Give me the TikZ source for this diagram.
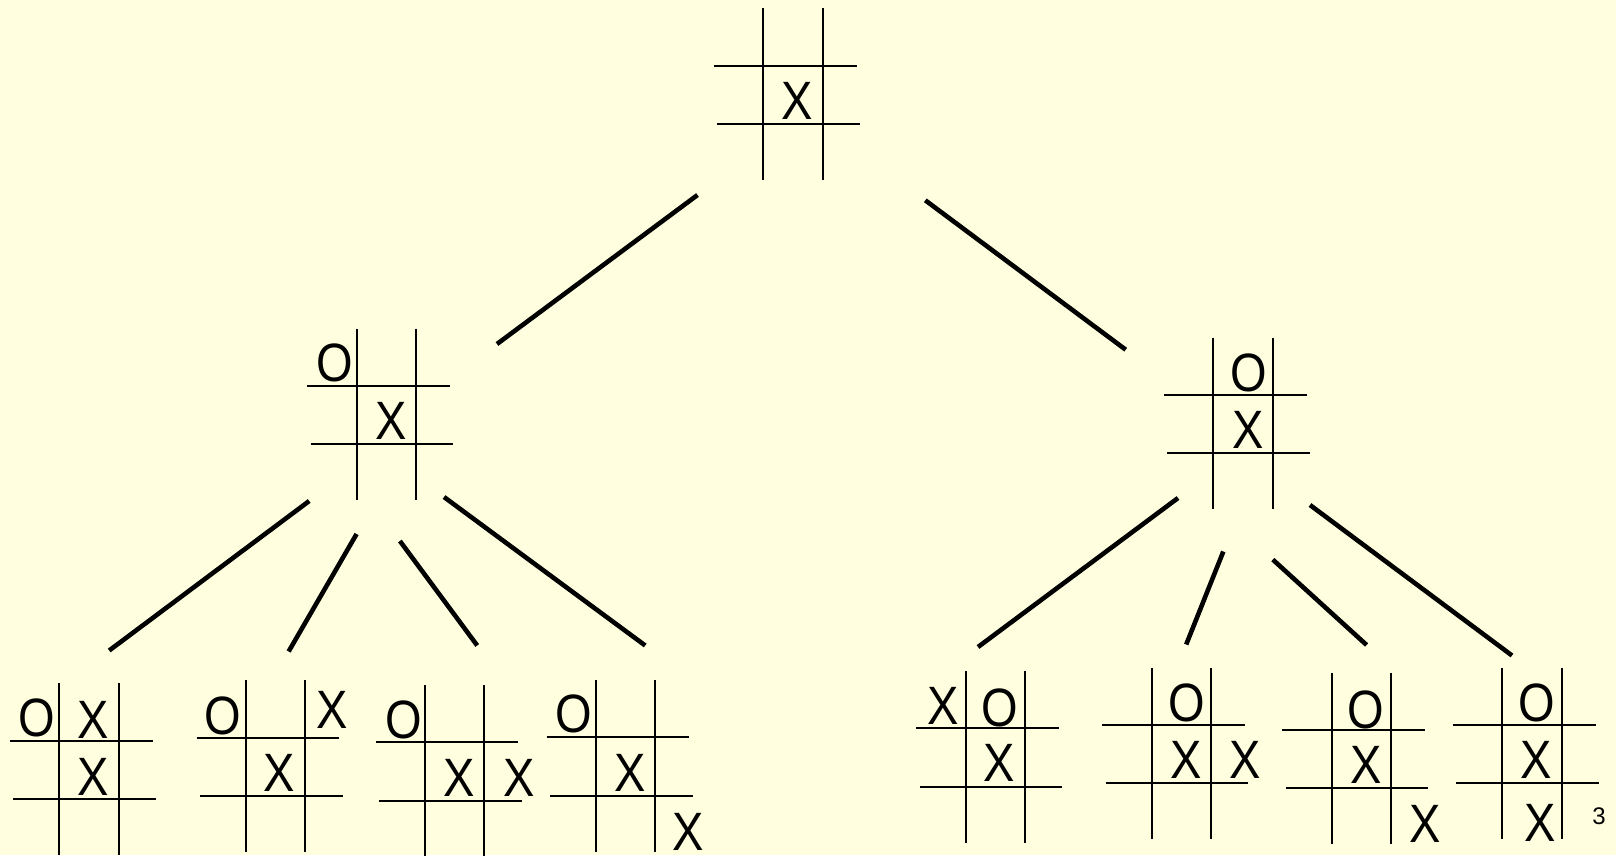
\documentclass[tikz,border=0pt]{standalone}
\usepackage{fontspec}
\setmainfont{Liberation Sans}
\newfontfamily\boardfont[FakeStretch=0.87]{Liberation Sans}
\definecolor{bgyellow}{RGB}{255,255,224}
% one tic-tac-toe grid; #1 = x of first vertical line, #2 = y of first horizontal line
\newcommand{\tttgrid}[3]{%
  \coordinate (#1) at (#2,#3);
  \draw[gridline] (#2,#3-57.3) -- (#2,#3+114.4);
  \draw[gridline] (#2+59.3,#3-57.3) -- (#2+59.3,#3+114.4);
  \draw[gridline] (#2-49.4,#3) -- (#2+93.3,#3);
  \draw[gridline] (#2-46.1,#3+58.3) -- (#2+96.6,#3+58.3);
}
\begin{document}
\begin{tikzpicture}[x=1pt,y=-1pt,
  gridline/.style={line width=2.2pt,black},
  edge/.style={line width=4.6pt,black},
  piece/.style={inner sep=0pt,font=\boardfont\fontsize{54}{54}\selectfont}]
\fill[bgyellow] (0,0) rectangle (1616,855);
\useasboundingbox (0,0) rectangle (1616,855);

% grids
\tttgrid{T}{763.3}{65.7}
\tttgrid{LM}{356.7}{386}
\tttgrid{RM}{1213.3}{395}
\tttgrid{B1}{59.3}{740.7}
\tttgrid{B2}{246}{737.7}
\tttgrid{B3}{425}{742.3}
\tttgrid{B4}{596}{737.3}
\tttgrid{B5}{965.7}{728.3}
\tttgrid{B6}{1151.7}{725}
\tttgrid{B7}{1331.7}{730}
\tttgrid{B8}{1502.3}{725}

% pieces
\node[piece] (t1) at (797.3,100.5) {X};
\node[piece] (lm1) at (335,363.3) {O};
\node[piece] (lm2) at (391,421) {X};
\node[piece] (rm1) at (1248.3,373) {O};
\node[piece] (rm2) at (1247.7,430) {X};
\node[piece] (b1a) at (36.7,718) {O};
\node[piece] (b1b) at (93.3,720) {X};
\node[piece] (b1c) at (93.3,776.7) {X};
\node[piece] (b2a) at (222.7,716) {O};
\node[piece] (b2b) at (331.7,709.5) {X};
\node[piece] (b2c) at (279.3,772.7) {X};
\node[piece] (b3a) at (403.3,720) {O};
\node[piece] (b3b) at (459.3,778) {X};
\node[piece] (b3c) at (518.7,778) {X};
\node[piece] (b4a) at (573.3,714) {O};
\node[piece] (b4b) at (630,773) {X};
\node[piece] (b4c) at (688.3,831.7) {X};
\node[piece] (b5a) at (943.3,706) {X};
\node[piece] (b5b) at (1000,708) {O};
\node[piece] (b5c) at (999.3,763) {X};
\node[piece] (b6a) at (1186.7,703) {O};
\node[piece] (b6b) at (1186,760) {X};
\node[piece] (b6c) at (1245,760) {X};
\node[piece] (b7a) at (1366,710) {O};
\node[piece] (b7b) at (1365.7,765) {X};
\node[piece] (b7c) at (1425,823.5) {X};
\node[piece] (b8a) at (1536.7,703) {O};
\node[piece] (b8b) at (1536,760) {X};
\node[piece] (b8c) at (1540,822.5) {X};

\node[inner sep=0pt,font=\fontsize{24}{24}\selectfont] (pg) at (1599,816.5) {3};

% connector end points
\coordinate (T-l) at (697.5,195);   \coordinate (LM-u) at (497,344);
\coordinate (T-r) at (925.3,200.3); \coordinate (RM-u) at (1125.7,349.7);
\coordinate (LM-1) at (309.2,501);  \coordinate (B1-u) at (109.2,650.5);
\coordinate (LM-2) at (356.6,534);  \coordinate (B2-u) at (288.6,651.5);
\coordinate (LM-3) at (399.9,541);  \coordinate (B3-u) at (477.2,645.5);
\coordinate (LM-4) at (444,497);    \coordinate (B4-u) at (645.2,645.5);
\coordinate (RM-1) at (1178,498);   \coordinate (B5-u) at (978,647);
\coordinate (RM-2) at (1223.3,551.5); \coordinate (B6-u) at (1186.2,644.5);
\coordinate (RM-3) at (1272.8,559.6); \coordinate (B7-u) at (1366.6,645);
\coordinate (RM-4) at (1310,505);   \coordinate (B8-u) at (1512,655.5);

% connectors
\draw[edge] (T-l) -- (LM-u);
\draw[edge] (T-r) -- (RM-u);
\draw[edge] (LM-1) -- (B1-u);
\draw[edge] (LM-2) -- (B2-u);
\draw[edge] (LM-3) -- (B3-u);
\draw[edge] (LM-4) -- (B4-u);
\draw[edge] (RM-1) -- (B5-u);
\draw[edge] (RM-2) -- (B6-u);
\draw[edge] (RM-3) -- (B7-u);
\draw[edge] (RM-4) -- (B8-u);
\end{tikzpicture}
\end{document}
